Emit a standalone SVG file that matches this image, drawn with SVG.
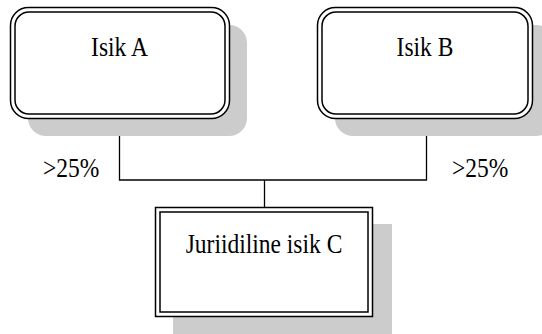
<svg xmlns="http://www.w3.org/2000/svg" width="542" height="334" viewBox="0 0 542 334">
  <style>
    .shadow { fill: #cccccc; stroke: none; }
    .outer { fill: #ffffff; stroke: #000000; stroke-width: 1.5; }
    .inner { fill: none; stroke: #000000; stroke-width: 1.5; }
    .label { font-family: "Liberation Serif", "Times New Roman", serif; font-size: 23.5px; fill: #000000; }
    .wire { fill: none; stroke: #000000; stroke-width: 1.3; }
  </style>
  <rect width="542" height="334" fill="#ffffff"/>

  <!-- ownership connectors -->
  <g id="connectors">
    <path class="wire" d="M119.5,118 V180 H426.5 V118"/>
    <path class="wire" d="M264.5,180 V207"/>
    <text class="label" transform="translate(43,177) scale(1,1.15)">&gt;25%</text>
    <text class="label" transform="translate(452,177) scale(1,1.15)">&gt;25%</text>
  </g>

  <g id="isik-a">
    <rect class="shadow" x="28" y="25" width="219" height="111" rx="18"/>
    <rect class="outer" x="10.5" y="7.5" width="219" height="111" rx="18"/>
    <rect class="inner" x="15" y="12" width="210" height="102" rx="14"/>
    <text class="label" transform="translate(119.5,56) scale(1,1.15)" text-anchor="middle">Isik A</text>
  </g>

  <g id="isik-b">
    <rect class="shadow" x="335" y="25" width="219" height="111" rx="18"/>
    <rect class="outer" x="317.5" y="7.5" width="215" height="111" rx="18"/>
    <rect class="inner" x="322" y="12" width="206" height="102" rx="14"/>
    <text class="label" transform="translate(425,56) scale(1,1.15)" text-anchor="middle">Isik B</text>
  </g>

  <g id="juriidiline-isik-c">
    <rect class="shadow" x="173" y="224" width="219" height="115"/>
    <rect class="outer" x="155.5" y="207.5" width="217" height="109"/>
    <rect class="inner" x="160" y="212" width="208" height="100"/>
    <text class="label" transform="translate(264,253) scale(1,1.15)" text-anchor="middle">Juriidiline isik C</text>
  </g>
</svg>
